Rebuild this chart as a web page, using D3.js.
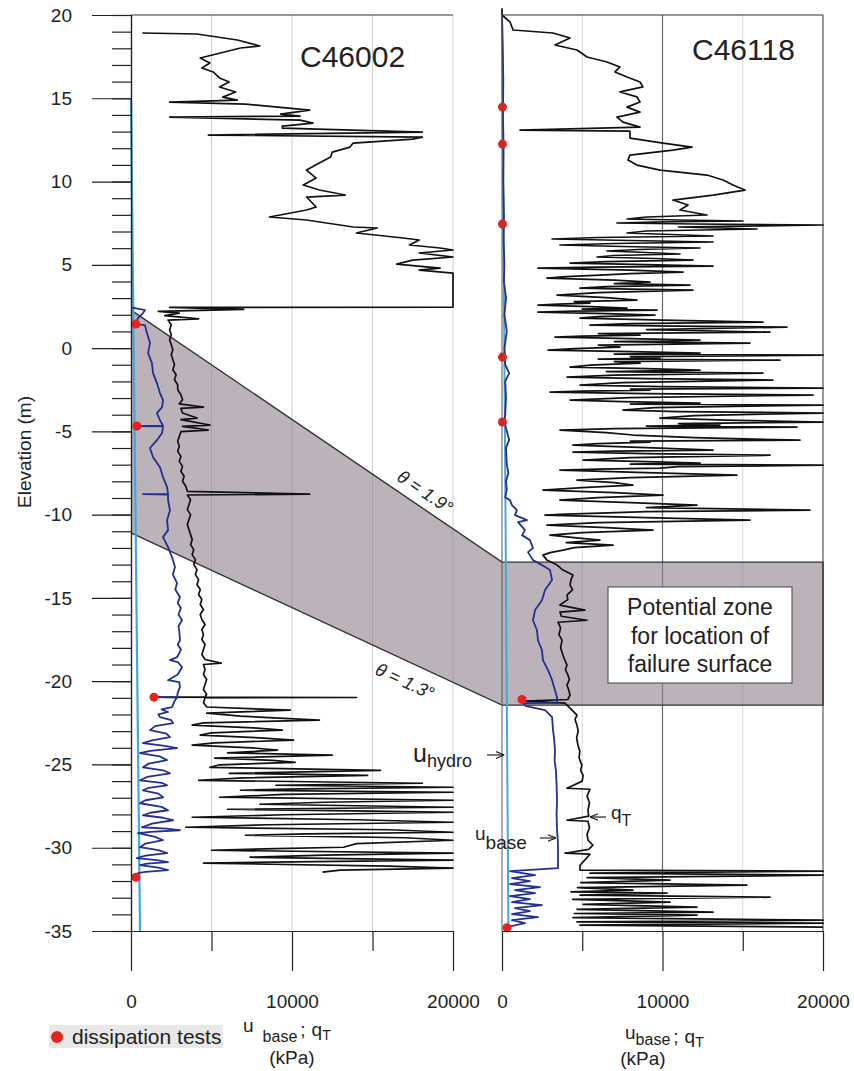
<!DOCTYPE html>
<html>
<head>
<meta charset="utf-8">
<script src="https://cdn.jsdelivr.net/npm/d3@7"></script>
<style>
body { margin: 0; background: #fff; }
text { font-family: "Liberation Sans", Arial, sans-serif; fill: #222; }
</style>
</head>
<body>
<svg id="chart" width="854" height="1071"></svg>
<script>
// elevation (m), value (kPa) pairs
var qtC46002 = [
	[18.92,700],[18.86,4100],[18.50,6600],[18.14,8000],[18.02,6800],[17.78,5800],[17.42,4300],[17.12,4900],
	[16.82,4400],[16.58,5100],[16.22,5500],[15.98,6100],[15.68,5500],[15.38,6500],[15.07,5700],[14.89,6600],
	[14.77,2400],[14.65,7100],[14.29,11100],[14.05,9300],[13.93,10500],[13.87,2400],[13.69,10500],[13.51,11300],
	[13.33,9400],[13.21,9400],[12.97,18100],[12.79,4800],[12.67,18100],[12.55,17500],[12.31,13800],[12.07,13600],
	[11.77,12500],[11.47,12400],[11.11,11700],[10.69,10900],[10.21,11500],[9.79,10700],[9.49,11700],[9.19,13300],
	[9.07,10900],[8.47,11500],[8.29,10900],[7.87,8600],[7.69,10900],[7.27,13800],[7.21,15300],[6.91,14000],
	[6.61,16900],[6.49,17900],[6.19,17300],[6.01,19200],[5.89,20000],[5.71,17900],[5.47,20000],[5.28,17500],
	[5.04,16500],[4.80,19200],[4.68,17900],[4.50,20000],[2.46,20000],[2.44,2400],[2.32,7000],[2.20,1700],
	[2.10,3000],[1.95,2100],[1.75,4200],[1.68,2300],[1.40,2500],[1.10,2400],[0.80,2500],[0.50,2400],
	[0.20,2500],[-0.10,2600],[-0.40,2500],[-0.70,2600],[-1.00,2700],[-1.30,2600],[-1.60,2800],[-1.90,2700],
	[-2.20,2900],[-2.50,2900],[-2.80,3100],[-3.10,3200],[-3.35,3000],[-3.54,4500],[-3.62,3100],[-3.90,3200],
	[-4.20,4100],[-4.30,3100],[-4.62,4900],[-4.70,3200],[-4.92,4800],[-5.02,3100],[-5.30,3000],[-5.60,2900],
	[-5.90,3000],[-6.20,2900],[-6.50,3100],[-6.80,3000],[-7.10,3200],[-7.40,3100],[-7.70,3300],[-8.00,3200],
	[-8.30,3400],[-8.60,3500],[-8.77,11100],[-8.82,3500],[-9.10,3700],[-9.40,3600],[-9.70,3500],[-10.0,3700],
	[-10.3,3600],[-10.6,3500],[-10.9,3600],[-11.2,3700],[-11.5,3800],[-11.8,3700],[-12.1,3900],[-12.4,3800],
	[-12.7,4000],[-13.0,3900],[-13.3,4100],[-13.6,4000],[-13.9,4200],[-14.2,4100],[-14.5,4300],[-14.8,4200],
	[-15.1,4400],[-15.4,4300],[-15.7,4500],[-16.0,4300],[-16.3,4400],[-16.6,4600],[-16.9,4400],[-17.2,4500],
	[-17.5,4400],[-17.8,4600],[-18.1,4500],[-18.4,4400],[-18.7,4600],[-18.92,5600],[-19.0,4500],[-19.3,4600],
	[-19.6,4500],[-19.9,4700],[-20.2,4600],[-20.5,4500],[-20.8,4700],[-20.94,4600],[-20.96,1500],[-20.98,14000],
	[-21.0,4600],[-21.3,4500],[-21.55,4700],[-21.74,9900],[-21.92,4700],[-22.10,6800],[-22.34,11700],[-22.50,4500],
	[-22.64,3800],[-22.80,7600],[-22.94,9400],[-23.10,5000],[-23.24,4300],[-23.40,8000],[-23.54,10100],[-23.70,5200],
	[-23.84,3800],[-24.0,7500],[-24.14,9100],[-24.30,6000],[-24.44,12500],[-24.62,5200],[-24.75,8800],[-24.87,10200],
	[-25.02,5500],[-25.17,4900],[-25.35,15500],[-25.53,6100],[-25.65,14700],[-25.80,7000],[-25.95,4200],[-26.13,18100],
	[-26.25,9000],[-26.37,20000],[-26.47,10500],[-26.55,6800],[-26.67,20000],[-26.80,9500],[-26.97,5500],[-27.15,20000],
	[-27.27,12000],[-27.39,8000],[-27.57,20000],[-27.69,6000],[-27.80,15000],[-27.87,20000],[-28.02,9500],[-28.17,3800],
	[-28.32,14000],[-28.47,20000],[-28.62,8500],[-28.77,3400],[-28.92,16000],[-29.07,20000],[-29.17,11000],[-29.25,7100],
	[-29.40,17000],[-29.55,20000],[-29.75,14000],[-29.97,13200],[-30.05,9000],[-30.15,5000],[-30.33,20000],[-30.45,12000],
	[-30.57,7400],[-30.75,20000],[-30.85,10000],[-30.93,4500],[-31.10,16000],[-31.23,20000],[-31.35,13000],[-31.47,11900]
];
var ubC46002 = [
	[2.45,0],[2.28,870],[2.10,745],[1.80,435],[1.44,310],[1.38,870],[0.90,990],[0.30,1180],[-0.30,1060],
	[-0.90,1300],[-1.50,1370],[-2.10,1610],[-2.70,1800],[-3.12,1990],[-3.54,1930],[-3.90,1610],[-4.33,1800],
	[-4.66,1990],[-4.68,370],[-4.70,1990],[-5.10,1930],[-5.53,1610],[-6.00,1180],[-6.55,1370],[-7.15,1800],
	[-7.75,1990],[-8.35,2240],[-8.75,2300],[-8.77,745],[-8.80,2300],[-9.13,2300],[-9.73,2420],[-10.33,2240],
	[-10.93,2300],[-11.35,1990],[-11.95,2300],[-12.55,2550],[-13.15,2730],[-13.6,2600],[-14.11,2860],[-14.5,2750],
	[-14.95,3040],[-15.3,2900],[-15.6,3100],[-16.0,2950],[-16.34,3170],[-16.7,2950],[-17.0,3000],[-17.54,3040],
	[-17.8,2900],[-18.1,3100],[-18.4,2950],[-18.56,2860],[-18.74,2420],[-18.85,2900],[-19.16,3170],[-19.6,2900],
	[-19.94,2300],[-20.05,3000],[-20.36,3040],[-20.70,2900],[-20.94,2860],[-20.96,1430],[-20.98,2860],[-21.2,2700],
	[-21.56,2550],[-21.70,1900],[-21.85,2300],[-22.00,1700],[-22.16,1800],[-22.34,2500],[-22.52,2610],[-22.70,1500],
	[-22.94,1180],[-23.15,2200],[-23.36,2420],[-23.55,1300],[-23.72,745],[-23.88,2100],[-24.02,2860],[-24.18,1200],
	[-24.32,560],[-24.52,1800],[-24.74,2240],[-24.95,1100],[-25.17,745],[-25.35,2000],[-25.53,2420],[-25.75,1000],
	[-25.95,560],[-26.10,1900],[-26.25,2240],[-26.40,1100],[-26.55,745],[-26.75,1700],[-26.97,1990],[-27.15,900],
	[-27.33,560],[-27.55,1900],[-27.75,2300],[-27.90,1200],[-28.05,745],[-28.20,2000],[-28.35,2610],[-28.55,1300],
	[-28.77,680],[-28.85,2200],[-28.95,3040],[-29.05,1200],[-29.13,435],[-29.35,1500],[-29.55,1990],[-29.75,900],
	[-29.97,560],[-30.15,1700],[-30.33,2240],[-30.48,900],[-30.63,370],[-30.75,1600],[-30.87,2300],[-30.95,1000],
	[-31.05,560],[-31.20,1700],[-31.35,2300],[-31.45,900],[-31.53,435],[-31.77,310]
];
var qtC46118 = [
	[20.40,0],[20.00,0],[19.58,500],[19.10,690],[18.92,3180],[18.62,4240],[18.20,3300],[17.90,4670],
	[17.48,5300],[17.18,6540],[16.88,7350],[16.58,7040],[16.28,7790],[15.98,8600],[15.68,8780],[15.38,7350],
	[15.08,8410],[14.78,8600],[14.47,7790],[14.17,8600],[13.87,7160],[13.57,7540],[13.27,8600],[13.09,1120],
	[13.03,7970],[12.61,7970],[12.31,10030],[12.07,11840],[11.89,10650],[11.59,7970],[11.29,7850],[10.99,8410],
	[10.69,9840],[10.39,12770],[10.09,13770],[9.79,14390],[9.49,15140],[9.19,13150],[8.89,10650],[8.59,11590],
	[8.29,11090],[7.99,12770],[7.87,9000],[7.75,7790],[7.69,11000],[7.63,15010],[7.57,9500],[7.51,7160],[7.45,12000],
	[7.39,20000],[7.27,11000],[7.15,15890],[7.03,9000],[6.91,7790],[6.82,10500],[6.73,13150],[6.64,6000],[6.55,3120],
	[6.46,8000],[6.37,13150],[6.28,7000],[6.19,3610],[6.10,7500],[6.01,12340],[5.92,8500],[5.83,6540],[5.74,9000],
	[5.65,11090],[5.56,7000],[5.47,5920],[5.38,9500],[5.28,11900],[5.19,6500],[5.10,4240],[5.01,9000],[4.92,13150],
	[4.86,6000],[4.80,2240],[4.68,8000],[4.56,11280],[4.47,8000],[4.38,6100],[4.29,4000],[4.20,2800],[4.08,7000],
	[3.96,9220],[3.87,7000],[3.78,11710],[3.69,6500],[3.60,4860],[3.54,8000],[3.48,11900],[3.33,6000],[3.18,3430],
	[3.03,6500],[2.88,8410],[2.79,4500],[2.70,5480],[2.64,3500],[2.58,2240],[2.49,5500],[2.40,7790],[2.34,5000],
	[2.28,9660],[2.22,4500],[2.16,2240],[2.07,6500],[1.98,9530],[1.89,6000],[1.80,4860],[1.68,10000],[1.56,16260],
	[1.47,8000],[1.38,5480],[1.32,11000],[1.26,17760],[1.11,9000],[0.96,16700],[0.87,6000],[0.78,8600],[0.72,5000],
	[0.66,3300],[0.57,8000],[0.48,12340],[0.39,7000],[0.30,15450],[0.18,6000],[0.06,7350],[-0.03,4500],[-0.12,2870],
	[-0.21,8000],[-0.30,12340],[-0.36,7000],[-0.42,20000],[-0.51,8000],[-0.60,9840],[-0.66,6000],[-0.72,17320],
	[-0.81,7000],[-0.90,8600],[-1.02,5500],[-1.14,4240],[-1.23,9000],[-1.32,12340],[-1.41,6500],[-1.50,16260],
	[-1.62,7000],[-1.74,4050],[-1.83,9000],[-1.92,16880],[-2.07,7500],[-2.22,4860],[-2.31,10000],[-2.40,20000],
	[-2.46,8000],[-2.52,9220],[-2.58,5000],[-2.64,2990],[-2.73,9000],[-2.82,19380],[-2.97,8000],[-3.12,4240],
	[-3.21,7500],[-3.30,12340],[-3.36,8000],[-3.42,20000],[-3.57,9500],[-3.72,7540],[-3.81,11000],[-3.90,20000],
	[-4.05,12000],[-4.20,9840],[-4.32,14000],[-4.44,20000],[-4.53,11000],[-4.62,13580],[-4.68,9000],[-4.74,18380],
	[-4.83,7000],[-4.92,3610],[-5.07,6500],[-5.22,8160],[-5.37,12000],[-5.53,18570],[-5.59,8000],[-5.65,9220],
	[-5.74,6000],[-5.83,4420],[-5.98,9000],[-6.13,13150],[-6.19,7000],[-6.25,4420],[-6.34,9000],[-6.43,16700],
	[-6.58,8000],[-6.73,5050],[-6.82,9000],[-6.91,12340],[-6.97,8000],[-7.03,20000],[-7.12,11000],[-7.21,9840],
	[-7.27,6000],[-7.33,3610],[-7.48,9000],[-7.63,14640],[-7.78,8000],[-7.93,4670],[-8.08,7000],[-8.23,8160],
	[-8.38,5000],[-8.53,2550],[-8.68,7000],[-8.83,10030],[-8.98,6000],[-9.13,3610],[-9.28,8000],[-9.43,12150],
	[-9.58,9000],[-9.73,19190],[-9.82,9000],[-9.91,6100],[-9.97,4000],[-10.03,2680],[-10.18,9000],[-10.33,15450],
	[-10.48,6000],[-10.63,2800],[-10.78,6500],[-10.93,9410],[-11.08,5000],[-11.23,2990],[-11.38,4500],[-11.53,6100],
	[-11.68,4000],[-11.83,6920],[-11.98,4500],[-12.13,3800],[-12.28,3000],[-12.43,2550],[-12.73,2800],[-13.03,3430],
	[-13.33,3800],[-13.63,4420],[-13.9,4300],[-14.23,4240],[-14.5,4400],[-14.83,4050],[-15.1,4100],[-15.43,3610],
	[-15.73,5170],[-15.85,3610],[-16.1,3700],[-16.34,5300],[-16.46,3490],[-16.8,3650],[-17.2,3550],[-17.54,3740],
	[-18.0,3650],[-18.44,3800],[-18.7,3900],[-19.04,4050],[-19.3,3950],[-19.64,4110],[-19.9,4200],[-20.24,4050],
	[-20.5,4150],[-20.84,4240],[-21.10,4100],[-21.20,1430],[-21.32,3920],[-21.62,4240],[-22.04,4670],[-22.3,4550],
	[-22.64,4670],[-23.0,4750],[-23.4,4650],[-23.84,4730],[-24.2,4850],[-24.6,4800],[-25.04,4980],[-25.35,4900],
	[-25.65,5050],[-26.0,5000],[-26.43,4050],[-26.49,5480],[-26.9,5300],[-27.3,5450],[-27.75,5360],[-28.1,5400],
	[-28.35,4050],[-28.41,5360],[-28.8,5450],[-29.2,5300],[-29.55,5360],[-29.85,5670],[-30.1,5400],[-30.33,3920],
	[-30.39,5480],[-30.7,5200],[-31.05,4860],[-31.35,4860],[-31.41,20000],[-31.53,5480],[-31.65,20000],[-31.80,5300],
	[-31.95,10470],[-32.10,4900],[-32.25,15260],[-32.40,4700],[-32.55,8160],[-32.65,4300],[-32.73,10280],[-32.85,4860],
	[-32.97,16700],[-33.10,4400],[-33.27,10470],[-33.40,5050],[-33.57,12150],[-33.70,4670],[-33.87,13150],[-33.95,4500],
	[-34.05,12150],[-34.20,4420],[-34.35,20000],[-34.45,4670],[-34.53,20000],[-34.65,4860],[-34.77,20000]
];
var ubC46118 = [
	[20.0,0],[18.0,50],[16.0,80],[14.0,60],[12.0,100],[10.0,80],[8.0,120],[6.5,100],[5.0,150],[4.0,120],
	[3.0,250],[2.0,150],[1.0,300],[0.0,150],[-1.0,200],[-1.5,450],[-2.0,200],[-3.0,250],[-4.0,200],[-4.4,150],
	[-5.0,300],[-5.5,450],[-6.0,250],[-7.0,300],[-7.5,400],[-8.0,250],[-8.5,300],[-8.95,200],[-9.13,500],
	[-9.43,620],[-9.73,930],[-10.03,810],[-10.33,1560],[-10.45,1000],[-10.93,1430],[-11.23,1250],[-11.53,1740],
	[-12.01,1930],[-12.25,1620],[-12.73,1930],[-13.03,2490],[-13.33,2990],[-13.93,3120],[-14.53,2680],[-15.14,2490],
	[-15.73,2060],[-16.34,1930],[-16.94,2180],[-17.54,2240],[-18.14,2490],[-18.74,2550],[-19.34,2870],[-19.94,3120],
	[-20.54,3300],[-20.96,3430],[-21.30,3430],[-21.32,1310],[-21.50,1500],[-21.74,2680],[-22.16,3120],[-22.94,3180],
	[-23.5,3250],[-24.14,3300],[-24.8,3280],[-25.35,3360],[-26.2,3400],[-27.15,3430],[-28.0,3400],[-28.95,3430],
	[-29.6,3480],[-30.15,3490],[-31.23,3490],[-31.41,500],[-31.65,2060],[-31.83,620],[-32.01,1740],[-32.19,500],
	[-32.37,2370],[-32.55,810],[-32.73,2060],[-32.91,500],[-33.09,1740],[-33.27,620],[-33.45,2490],[-33.63,810],
	[-33.81,1740],[-33.99,620],[-34.17,2240],[-34.35,620],[-34.53,1430],[-34.77,310]
];
var hydroC46002 = [[15, 0], [-35, 560]];
var hydroC46118 = [[20, 0], [-35, 400]];
var dissC46002 = [[1.44, 310], [-4.68, 370], [-20.96, 1430], [-31.77, 310]];
var dissC46118 = [[14.47, 30], [12.25, 30], [7.45, 30], [-0.54, 30], [-4.44, 30], [-21.1, 1250], [-34.8, 310]];

// failure zone: elevation at C46002 axis, at C46118 axis
var zoneTop = [2.28, -12.85];
var zoneBase = [-11.1, -21.44];

var elevTicks = [20, 15, 10, 5, 0, -5, -10, -15, -20, -25, -30, -35];
var elevMinor = d3.range(-35, 21, 1);
var kpaTicks = [0, 10000, 20000];
var kpaMinor = [5000, 15000];
var gridKpa = [5000, 10000, 15000, 20000];

var svg = d3.select('#chart');
var y = d3.scaleLinear().domain([-35, 20]).range([931, 15]);
var xL = d3.scaleLinear().domain([0, 20000]).range([131, 453]);
var xR = d3.scaleLinear().domain([0, 20000]).range([502, 823]);

var defs = svg.append('defs');
defs.append('marker').attr('id', 'arr')
	.attr('viewBox', '0 0 10 10').attr('refX', 10).attr('refY', 5)
	.attr('markerWidth', 7).attr('markerHeight', 7).attr('orient', 'auto')
	.append('path').attr('d', 'M0,1L10,5L0,9').attr('fill', 'none')
	.attr('stroke', '#222').attr('stroke-width', 1.4);

// grid
svg.selectAll('.gl').data(gridKpa).enter().append('line')
	.attr('x1', d => xL(d)).attr('x2', d => xL(d))
	.attr('y1', y(20)).attr('y2', y(-35))
	.attr('stroke', '#cfcfcf').attr('stroke-width', 1);
svg.selectAll('.gr').data(gridKpa).enter().append('line')
	.attr('x1', d => xR(d)).attr('x2', d => xR(d))
	.attr('y1', y(20)).attr('y2', y(-35))
	.attr('stroke', d => d == 10000 ? '#6a6a6a' : d == 20000 ? '#555' : '#d8d8d8')
	.attr('stroke-width', d => d % 10000 == 0 ? 1.2 : 1);

// potential failure zone
var zone = [
	[xL(0), y(zoneTop[0])], [xR(0), y(zoneTop[1])], [xR(20000), y(zoneTop[1])],
	[xR(20000), y(zoneBase[1])], [xR(0), y(zoneBase[1])], [xL(0), y(zoneBase[0])]
];
svg.append('path').attr('d', 'M' + zone.join('L') + 'Z')
	.attr('fill', 'rgb(142,127,140)').attr('fill-opacity', 0.6).attr('stroke', 'none');
svg.append('path').attr('d', 'M' + zone.join('L'))
	.attr('fill', 'none').attr('stroke', '#333').attr('stroke-width', 1.4);

function trace(data, x, color, width) {
	var line = d3.line().x(d => x(d[1])).y(d => y(d[0]));
	svg.append('path').datum(data).attr('d', line)
		.attr('fill', 'none').attr('stroke', color)
		.attr('stroke-width', width).attr('stroke-linejoin', 'round');
}

trace(hydroC46002, xL, '#45a6e0', 2.2);
trace(hydroC46118, xR, '#45a6e0', 2);
trace(qtC46002, xL, '#111', 1.7);
trace(qtC46118, xR, '#111', 1.7);
trace(ubC46002, xL, '#22308f', 1.8);
trace(ubC46118, xR, '#22308f', 1.8);

svg.selectAll('.dl').data(dissC46002).enter().append('circle')
	.attr('cx', d => xL(d[1])).attr('cy', d => y(d[0])).attr('r', 4.5).attr('fill', '#e8221c');
svg.selectAll('.dr').data(dissC46118).enter().append('circle')
	.attr('cx', d => xR(d[1])).attr('cy', d => y(d[0])).attr('r', 4.5).attr('fill', '#e8221c');

// frames
svg.append('line').attr('x1', xL(0)).attr('x2', xL(20000)).attr('y1', y(20)).attr('y2', y(20))
	.attr('stroke', '#333').attr('stroke-width', 1.2);
svg.append('line').attr('x1', xR(0)).attr('x2', xR(20000)).attr('y1', y(20)).attr('y2', y(20))
	.attr('stroke', '#333').attr('stroke-width', 1.2);
svg.append('line').attr('x1', xR(0)).attr('x2', xR(0)).attr('y1', y(20)).attr('y2', y(-35))
	.attr('stroke', '#555').attr('stroke-width', 1);

// axes
function styleAxis(g) {
	g.selectAll('path,line').attr('stroke', '#222').attr('stroke-width', 1.2);
	g.selectAll('text').attr('font-size', 19).attr('fill', '#222')
		.attr('font-family', '"Liberation Sans", Arial, sans-serif');
}
svg.append('g').attr('transform', 'translate(' + xL(0) + ',0)')
	.call(d3.axisLeft(y).tickValues(elevMinor).tickSize(19).tickFormat(''))
	.call(styleAxis);
svg.append('g').attr('transform', 'translate(' + xL(0) + ',0)')
	.call(d3.axisLeft(y).tickValues(elevTicks).tickSize(39).tickPadding(20).tickSizeOuter(0).tickFormat(d => String(d)))
	.call(styleAxis);

[xL, xR].forEach(function(x) {
	svg.append('g').attr('transform', 'translate(0,' + y(-35) + ')')
		.call(d3.axisBottom(x).tickValues(kpaMinor).tickSize(20).tickFormat('').tickSizeOuter(0))
		.call(styleAxis);
	svg.append('g').attr('transform', 'translate(0,' + y(-35) + ')')
		.call(d3.axisBottom(x).tickValues(kpaTicks).tickSize(40).tickPadding(24).tickSizeOuter(0).tickFormat(d => String(d)))
		.call(styleAxis);
});

// titles
svg.append('text').attr('x', 300).attr('y', 67).attr('font-size', 30).text('C46002');
svg.append('text').attr('x', 692).attr('y', 60).attr('font-size', 30).text('C46118');

svg.append('text').attr('transform', 'translate(31,452) rotate(-90)')
	.attr('text-anchor', 'middle').attr('font-size', 19).text('Elevation (m)');

// theta labels along the zone edges
function edgeLabel(p0, p1, t, off, txt) {
	var ang = Math.atan2(p1[1] - p0[1], p1[0] - p0[0]);
	var px = p0[0] + (p1[0] - p0[0]) * t + Math.sin(ang) * off;
	var py = p0[1] + (p1[1] - p0[1]) * t - Math.cos(ang) * off;
	svg.append('text').attr('transform', 'translate(' + px + ',' + py + ') rotate(' + ang * 180 / Math.PI + ')')
		.attr('text-anchor', 'middle').attr('dy', '0.35em').attr('font-size', 18)
		.attr('font-style', 'italic').text(txt);
}
edgeLabel(zone[0], zone[1], 0.77, 15, '\u03b8 = 1.9\u00b0');
edgeLabel(zone[5], zone[4], 0.76, -19, '\u03b8 = 1.3\u00b0');

// zone label box
svg.append('rect').attr('x', 608).attr('y', 587).attr('width', 184).attr('height', 96)
	.attr('fill', '#fff').attr('stroke', '#444').attr('stroke-width', 1);
['Potential zone', 'for location of', 'failure surface'].forEach(function(s, i) {
	svg.append('text').attr('x', 700).attr('y', 615 + i * 28.5).attr('text-anchor', 'middle')
		.attr('font-size', 23).text(s);
});

// trace labels
var th = svg.append('text').attr('x', 413).attr('y', 762).attr('font-size', 25).text('u');
th.append('tspan').attr('font-size', 18).attr('dy', 5).text('hydro');
svg.append('line').attr('x1', 487).attr('x2', xR(150)).attr('y1', 755).attr('y2', 755)
	.attr('stroke', '#222').attr('stroke-width', 1.2).attr('marker-end', 'url(#arr)');

var tb = svg.append('text').attr('x', 475).attr('y', 840).attr('font-size', 19).text('u');
tb.append('tspan').attr('font-size', 19).attr('dy', 9).text('base');
svg.append('line').attr('x1', 540).attr('x2', 556).attr('y1', 838).attr('y2', 838)
	.attr('stroke', '#222').attr('stroke-width', 1.2).attr('marker-end', 'url(#arr)');

var tq = svg.append('text').attr('x', 611).attr('y', 819).attr('font-size', 19).text('q');
tq.append('tspan').attr('font-size', 16).attr('dy', 7).text('T');
svg.append('line').attr('x1', 606).attr('x2', 590).attr('y1', 817).attr('y2', 817)
	.attr('stroke', '#222').attr('stroke-width', 1.2).attr('marker-end', 'url(#arr)');

// x axis titles
function unitTitle(x0, yb, gap, sub) {
	var t = svg.append('text').attr('x', x0).attr('y', yb).attr('font-size', 19).text('u');
	t.append('tspan').attr('dx', gap).attr('dy', sub).attr('font-size', 16).text('base');
	t.append('tspan').attr('dx', 3).attr('dy', -sub + 4).text(';');
	t.append('tspan').attr('dx', 6).text('q');
	t.append('tspan').attr('dy', 4).attr('font-size', 14).text('T');
}
unitTitle(243, 1032, 9, 10);
unitTitle(625, 1039, 0, 6);
svg.append('text').attr('x', 292).attr('y', 1064).attr('text-anchor', 'middle').attr('font-size', 19).text('(kPa)');
svg.append('text').attr('x', 643).attr('y', 1065).attr('text-anchor', 'middle').attr('font-size', 19).text('(kPa)');

// legend
svg.append('rect').attr('x', 49).attr('y', 1025).attr('width', 174).attr('height', 23).attr('fill', '#e8e8e8');
svg.append('circle').attr('cx', 57).attr('cy', 1037).attr('r', 6).attr('fill', '#e8221c');
svg.append('text').attr('x', 72).attr('y', 1044).attr('font-size', 21).attr('fill', '#333').text('dissipation tests');
</script>
</body>
</html>
